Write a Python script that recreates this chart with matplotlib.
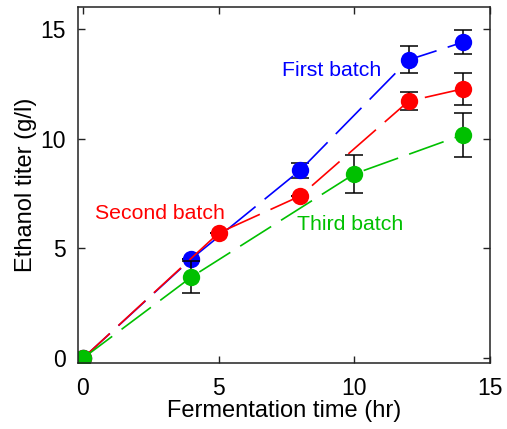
import numpy as np
import matplotlib.pyplot as plt

plt.rcParams['font.family'] = ['Liberation Sans', 'DejaVu Sans']

# first batch
t1 = [0, 4, 8, 12, 14]
y1 = [0, 4.53, 8.55, 13.58, 14.38]
e1 = [0, 0, 0.33, 0.62, 0.55]

# second batch
t2 = [0, 5, 8, 12, 14]
y2 = [0, 5.70, 7.38, 11.70, 12.26]
e2 = [0, 0, 0, 0.40, 0.72]

# third batch
t3 = [0, 4, 10, 14]
y3 = [0, 3.70, 8.39, 10.17]
e3 = [0, 0.75, 0.85, 1.0]

series = [
    (t1, y1, e1, "#0000ff", "First batch", (7.35, 13.1)),
    (t2, y2, e2, "#ff0000", "Second batch", (0.44, 6.6)),
    (t3, y3, e3, "#00c000", "Third batch", (7.9, 6.1)),
]

fig = plt.figure(figsize=(5.07, 4.29), dpi=100)
ax = fig.add_axes([0.1538, 0.1545, 0.8127, 0.83])

for t, y, e, col, name, pos in series:
    ax.errorbar(t, y, yerr=e, fmt="none", ecolor="black", elinewidth=1.1,
                capsize=6.5, capthick=1.1)
    ax.plot(t, y, color=col, lw=1.2, dashes=(22, 7), marker="o",
            markersize=12.5, markeredgewidth=0)
    ax.text(pos[0], pos[1], name, color=col, fontsize=15.3,
            ha="left", va="center")

ax.set_xlim(-0.18, 15)
ax.set_ylim(-0.2, 16)
ax.set_xticks([0, 5, 10, 15])
ax.set_yticks([0, 5, 10, 15])
ax.tick_params(direction="in", top=True, right=True, labelsize=16.5,
               length=5, width=1, color="#222222")
ax.tick_params(axis="x", pad=10)
ax.tick_params(axis="y", pad=9)
for s in ax.spines.values():
    s.set_linewidth(1.1)
    s.set_color("#222222")

ax.set_xlabel("Fermentation time (hr)", fontsize=17)
ax.set_ylabel("Ethanol titer (g/l)", fontsize=17)
ax.xaxis.set_label_coords(0.5, -0.106)
ax.yaxis.set_label_coords(-0.10, 0.5)

fig.savefig("out.png", dpi=100)
